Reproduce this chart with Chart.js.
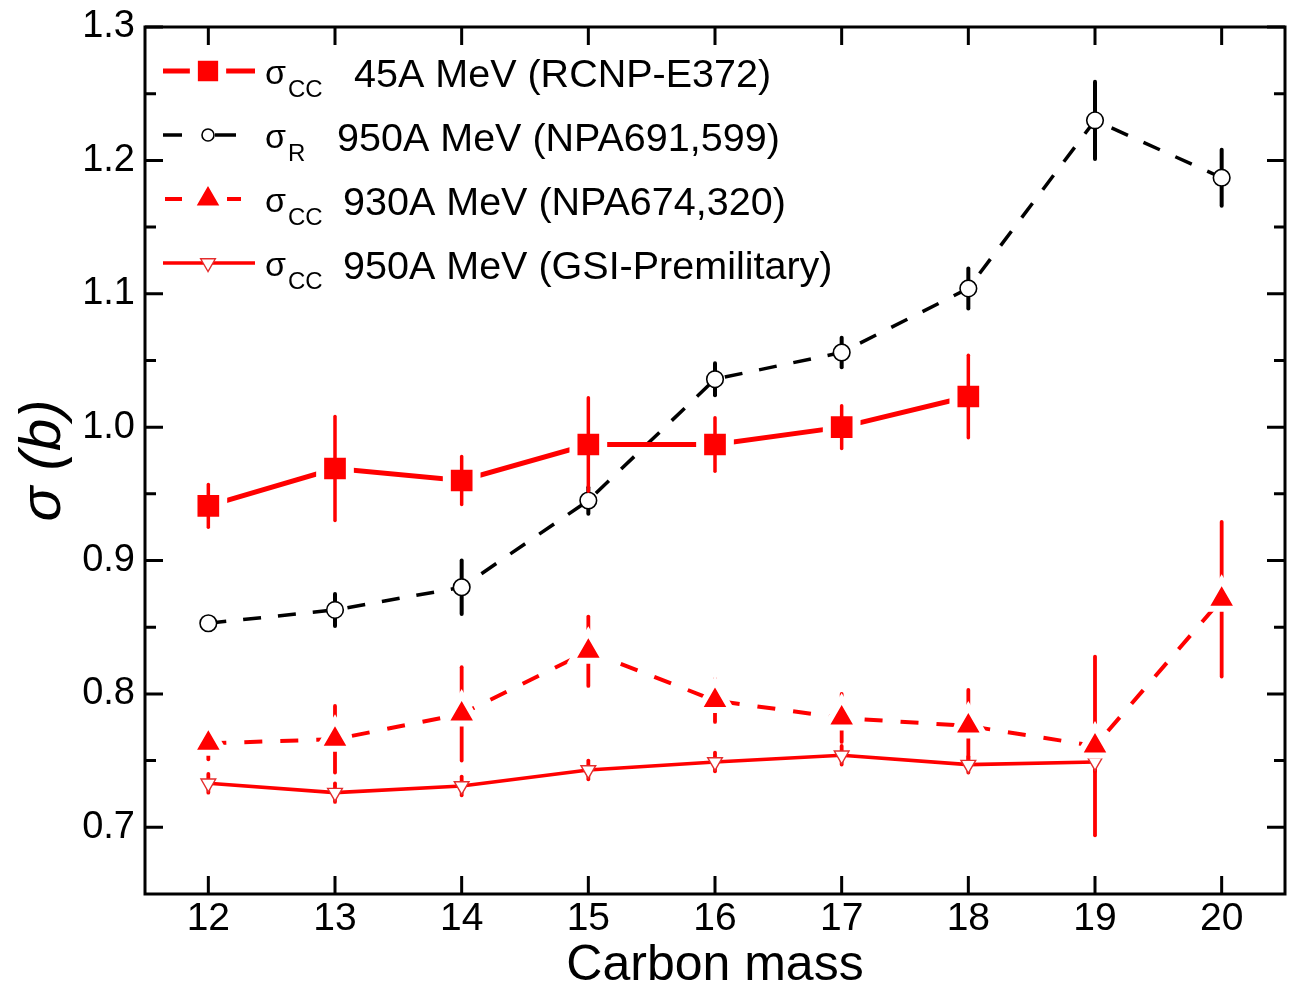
<!DOCTYPE html>
<html>
<head>
<meta charset="utf-8">
<title>Carbon isotopes: cross sections</title>
<script src="https://cdn.jsdelivr.net/npm/chart.js@4.4.1/dist/chart.umd.min.js"></script>
<style>
  html, body { margin: 0; padding: 0; background: #fff; }
  #wrap { width: 1290px; height: 987px; }
</style>
</head>
<body>
<div id="wrap"><canvas id="c" width="1290" height="987"></canvas></div>
<script>
// ---- data -------------------------------------------------------------
const xTickValues = [12, 13, 14, 15, 16, 17, 18, 19, 20];
const yTickValues = [0.7, 0.8, 0.9, 1.0, 1.1, 1.2, 1.3];

// sigma_CC at 45A MeV (RCNP-E372)
const rcnpMass = [12, 13, 14, 15, 16, 17, 18];
const rcnpSigma = [0.941, 0.969, 0.960, 0.987, 0.987, 1.000, 1.023];
const rcnpErr   = [0.016, 0.039, 0.018, 0.035, 0.020, 0.016, 0.031];

// sigma_R at 950A MeV (NPA691,599)
const npa691Mass = [12, 13, 14, 15, 16, 17, 18, 19, 20];
const npa691Sigma = [0.853, 0.863, 0.880, 0.945, 1.036, 1.056, 1.104, 1.230, 1.187];
const npa691Err   = [0.004, 0.012, 0.020, 0.010, 0.012, 0.011, 0.015, 0.029, 0.021];

// sigma_CC at 930A MeV (NPA674,320)
const npa674Mass = [12, 13, 14, 15, 16, 17, 18, 19, 20];
const npa674Sigma = [0.763, 0.766, 0.785, 0.832, 0.795, 0.782, 0.776, 0.761, 0.871];
const npa674Err   = [0.012, 0.025, 0.035, 0.026, 0.016, 0.018, 0.027, 0.067, 0.058];

// sigma_CC at 950A MeV (GSI, preliminary)
const gsiMass = [12, 13, 14, 15, 16, 17, 18, 19];
const gsiSigma = [0.733, 0.726, 0.731, 0.743, 0.749, 0.754, 0.747, 0.749];
const gsiErr   = [0.007, 0.007, 0.007, 0.007, 0.007, 0.007, 0.006, 0.007];

// legend texts
const legendSymbol = 'σ';
const legendSubs = ['CC', 'R', 'CC', 'CC'];
const legendTexts = ['45A MeV (RCNP-E372)', '950A MeV (NPA691,599)', '930A MeV (NPA674,320)', '950A MeV (GSI-Premilitary)'];

const xTitle = 'Carbon mass';
const yTitle = 'σ (b)';

// ---- helpers ----------------------------------------------------------
const FONT = "'Liberation Sans', Arial, Helvetica, sans-serif";
const RED = '#ff0000';

function toPoints(xs, ys) {
  return ys.map((y, i) => ({ x: xs[i], y: y }));
}

// vertical error bars, drawn through the library's scales
function drawErrorBars(chart, onTop) {
  const { ctx, scales: { x, y } } = chart;
  chart.data.datasets.forEach((ds, i) => {
    if (!ds.errors || !!ds.errorOnTop !== onTop || !chart.isDatasetVisible(i)) return;
    ctx.save();
    ctx.strokeStyle = ds.errorColor;
    ctx.lineWidth = ds.errorWidth;
    ctx.lineCap = 'round';
    ds.data.forEach((p, j) => {
      const e = ds.errors[j];
      const px = x.getPixelForValue(p.x);
      ctx.beginPath();
      ctx.moveTo(px, y.getPixelForValue(p.y - e));
      ctx.lineTo(px, y.getPixelForValue(p.y + e));
      ctx.stroke();
    });
    ctx.restore();
  });
}

const errorBarPlugin = {
  id: 'errorBars',
  beforeDatasetsDraw(chart) { drawErrorBars(chart, false); },
  afterDatasetsDraw(chart) { drawErrorBars(chart, true); }
};

// closed frame with inward ticks on all four sides
const framePlugin = {
  id: 'frame',
  afterDraw(chart, args, opts) {
    const { ctx, chartArea: a, scales: { x, y } } = chart;
    ctx.save();
    ctx.strokeStyle = '#000';
    ctx.lineWidth = opts.lineWidth;
    ctx.strokeRect(a.left, a.top, a.right - a.left, a.bottom - a.top);
    ctx.beginPath();
    xTickValues.forEach(v => {
      const px = x.getPixelForValue(v);
      ctx.moveTo(px, a.bottom); ctx.lineTo(px, a.bottom - opts.major);
      ctx.moveTo(px, a.top); ctx.lineTo(px, a.top + opts.major);
    });
    yTickValues.forEach((v, i) => {
      const py = y.getPixelForValue(v);
      ctx.moveTo(a.left, py); ctx.lineTo(a.left + opts.major, py);
      ctx.moveTo(a.right, py); ctx.lineTo(a.right - opts.major, py);
      if (i < yTickValues.length - 1) {
        const pm = y.getPixelForValue((v + yTickValues[i + 1]) / 2);
        ctx.moveTo(a.left, pm); ctx.lineTo(a.left + opts.minor, pm);
        ctx.moveTo(a.right, pm); ctx.lineTo(a.right - opts.minor, pm);
      }
    });
    ctx.stroke();
    ctx.restore();
  }
};

// legend with subscripted symbols
function marker(ctx, ds, r, x, y) {
  ctx.save();
  ctx.setLineDash([]);
  ctx.fillStyle = ds.pointBackgroundColor;
  ctx.strokeStyle = ds.pointBorderColor;
  ctx.lineWidth = ds.pointBorderWidth;
  Chart.helpers.drawPoint(ctx, {
    pointStyle: ds.pointStyle,
    rotation: ds.pointRotation || 0,
    radius: r,
    borderWidth: ds.pointBorderWidth
  }, x, y);
  ctx.restore();
}

const sampleLegendPlugin = {
  id: 'sampleLegend',
  afterDraw(chart, args, o) {
    const ctx = chart.ctx;
    chart.data.datasets.forEach((ds, i) => {
      const base = o.firstBaseline + i * o.rowStep;
      const ly = base - o.lineRaise;
      ctx.save();
      ctx.strokeStyle = ds.borderColor;
      ctx.lineWidth = ds.borderWidth;
      ctx.lineCap = 'butt';
      ctx.beginPath();
      o.segments[i].forEach(s => { ctx.moveTo(s[0], ly); ctx.lineTo(s[1], ly); });
      ctx.stroke();
      ctx.restore();
      marker(ctx, ds, o.markerRadius[i], o.markerX, ly);

      ctx.save();
      ctx.fillStyle = '#000';
      ctx.textBaseline = 'alphabetic';
      ctx.textAlign = 'left';
      ctx.font = o.symbolSize + 'px ' + FONT;
      ctx.fillText(legendSymbol, o.symbolX, base - o.symbolRaise);
      ctx.font = o.subSize + 'px ' + FONT;
      ctx.fillText(legendSubs[i], o.subX, base + o.subDrop);
      ctx.font = o.textSize + 'px ' + FONT;
      ctx.fillText(legendTexts[i], o.textX[i], base);
      ctx.restore();
    });
  }
};

// fixed scale boxes, no extra room reserved for overhanging labels
function fixBox(size, key) {
  return s => {
    s[key] = size;
    s.paddingLeft = 0; s.paddingRight = 0; s.paddingTop = 0; s.paddingBottom = 0;
  };
}

// ---- chart ------------------------------------------------------------
const datasets = [
  {
    label: 'σCC 45A MeV (RCNP-E372)',
    data: toPoints(rcnpMass, rcnpSigma),
    errors: rcnpErr, errorColor: RED, errorWidth: 3.5, errorOnTop: true,
    borderColor: RED, borderWidth: 5,
    pointStyle: 'rect', pointRadius: 21,
    pointBackgroundColor: RED, pointBorderColor: '#fff', pointBorderWidth: 8
  },
  {
    label: 'σR 950A MeV (NPA691,599)',
    data: toPoints(npa691Mass, npa691Sigma),
    errors: npa691Err, errorColor: '#000', errorWidth: 4,
    borderColor: '#000', borderWidth: 3.5, borderDash: [18, 17],
    pointStyle: 'circle', pointRadius: 8.3,
    pointBackgroundColor: '#fff', pointBorderColor: '#000', pointBorderWidth: 1.6
  },
  {
    label: 'σCC 930A MeV (NPA674,320)',
    data: toPoints(npa674Mass, npa674Sigma),
    errors: npa674Err, errorColor: RED, errorWidth: 3.8,
    borderColor: RED, borderWidth: 4, borderDash: [18, 18],
    pointStyle: 'triangle', pointRadius: 19,
    pointBackgroundColor: RED, pointBorderColor: '#fff', pointBorderWidth: 6
  },
  {
    label: 'σCC 950A MeV (GSI-Premilitary)',
    data: toPoints(gsiMass, gsiSigma),
    errors: gsiErr, errorColor: RED, errorWidth: 3.8,
    borderColor: RED, borderWidth: 3.6,
    pointStyle: 'triangle', pointRotation: 180, pointRadius: 8.5,
    pointBackgroundColor: '#fff', pointBorderColor: 'rgb(228,45,45)', pointBorderWidth: 1.4
  }
];
datasets.forEach(d => { d.tension = 0; d.fill = false; d.pointHoverRadius = d.pointRadius; });

new Chart(document.getElementById('c'), {
  type: 'line',
  data: { datasets },
  plugins: [errorBarPlugin, framePlugin, sampleLegendPlugin],
  options: {
    responsive: false,
    animation: false,
    devicePixelRatio: 1,
    layout: { autoPadding: false, padding: { top: 27, right: 5, left: 0, bottom: 0 } },
    plugins: {
      legend: { display: false },
      tooltip: { enabled: false },
      frame: { lineWidth: 3, major: 18, minor: 11 },
      sampleLegend: {
        firstBaseline: 87, rowStep: 64, lineRaise: 16,
        segments: [[[163, 255]], [[163, 182], [215, 236]], [[165, 182], [227, 241]], [[163, 255]]],
        markerX: 208, markerRadius: [20, 6, 19, 8.5],
        symbolX: 265, symbolSize: 34, symbolRaise: 3,
        subX: 288, subSize: 24, subDrop: 10,
        textX: [354, 337, 343, 343], textSize: 39.5
      }
    },
    scales: {
      x: {
        type: 'linear', min: 11.5, max: 20.5,
        afterBuildTicks: s => { s.ticks = xTickValues.map(v => ({ value: v })); },
        afterFit: fixBox(93, 'height'),
        grid: { display: false, drawTicks: false },
        border: { display: false },
        ticks: {
          color: '#000', font: { family: FONT, size: 39 }, padding: 2,
          autoSkip: false, maxRotation: 0, callback: v => String(v)
        },
        title: {
          display: true, text: xTitle, color: '#000',
          font: { family: FONT, size: 50, lineHeight: 0.84 }, padding: { top: 0, bottom: 0 }
        }
      },
      y: {
        type: 'linear', min: 0.65, max: 1.3,
        afterBuildTicks: s => { s.ticks = yTickValues.map(v => ({ value: v })); },
        afterFit: fixBox(145, 'width'),
        grid: { display: false, drawTicks: false },
        border: { display: false },
        ticks: {
          color: '#000', font: { family: FONT, size: 38 }, padding: 10,
          autoSkip: false, callback: v => v.toFixed(1)
        },
        title: {
          display: true, text: yTitle, color: '#000',
          font: { family: FONT, size: 58, style: 'italic', lineHeight: 1.2 }, padding: { top: 9, bottom: 0 }
        }
      }
    }
  }
});
</script>
</body>
</html>
